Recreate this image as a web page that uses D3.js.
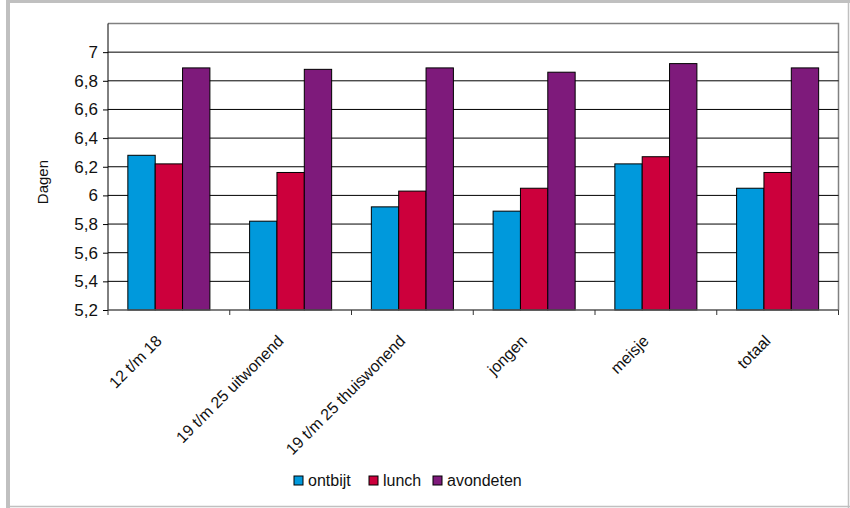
<!DOCTYPE html>
<html>
<head>
<meta charset="utf-8">
<script src="https://cdn.jsdelivr.net/npm/d3@7/dist/d3.min.js"></script>
<style>
  html, body { margin: 0; padding: 0; background: #fff; }
  svg { display: block; font-family: "Liberation Sans", Arial, sans-serif; }
</style>
</head>
<body>
<svg id="chart" width="850" height="508"></svg>
<script>
// Meals per week (days) by group
const categories = ["12 t/m 18", "19 t/m 25 uitwonend", "19 t/m 25 thuiswonend", "jongen", "meisje", "totaal"];
const seriesNames = ["ontbijt", "lunch", "avondeten"];
const ontbijt   = [6.28, 5.82, 5.92, 5.89, 6.22, 6.05];
const lunch     = [6.22, 6.16, 6.03, 6.05, 6.27, 6.16];
const avondeten = [6.89, 6.88, 6.89, 6.86, 6.92, 6.89];
const seriesColors = ["#0099DC", "#CC003C", "#7E1A7B"];
const yTicks = [5.2, 5.4, 5.6, 5.8, 6.0, 6.2, 6.4, 6.6, 6.8, 7.0];
const yDomain = [5.2, 7.2];
const yTitle = "Dagen";

const seriesValues = [ontbijt, lunch, avondeten];

const svg = d3.select("#chart");
const plot = { left: 108, right: 838.5, top: 23.5, bottom: 310 };

// outer frame
const frame = svg.append("g").attr("stroke", "#c0c0c0").attr("fill", "none");
frame.append("line").attr("x1", 8).attr("x2", 8).attr("y1", 0).attr("y2", 508).attr("stroke-width", 4);
frame.append("line").attr("x1", 6).attr("x2", 850).attr("y1", 1.5).attr("y2", 1.5).attr("stroke-width", 3);
frame.append("line").attr("x1", 6).attr("x2", 850).attr("y1", 506.5).attr("y2", 506.5).attr("stroke-width", 1.5);
frame.append("line").attr("x1", 848.5).attr("x2", 848.5).attr("y1", 0).attr("y2", 508).attr("stroke-width", 1.5);

const x0 = d3.scaleBand().domain(categories).range([plot.left, plot.right]).padding(0);
const x1 = d3.scaleBand().domain(seriesNames).range([0, x0.bandwidth()]).paddingInner(0).paddingOuter(0.726);
const y = d3.scaleLinear().domain(yDomain).range([plot.bottom, plot.top]);

// plot area border (top + right)
svg.append("path")
  .attr("d", `M${plot.left},${y(yDomain[1])}H${plot.right}V${plot.bottom}`)
  .attr("fill", "none").attr("stroke", "#808080").attr("stroke-width", 1.5);

// horizontal gridlines
svg.append("g").selectAll("line")
  .data(yTicks.filter(t => t > yDomain[0]))
  .join("line")
  .attr("x1", plot.left).attr("x2", plot.right)
  .attr("y1", d => y(d)).attr("y2", d => y(d))
  .attr("stroke", "#000").attr("stroke-width", 1);

// bars
const groups = svg.append("g").selectAll("g")
  .data(categories)
  .join("g")
  .attr("transform", d => `translate(${x0(d)},0)`);

groups.selectAll("rect")
  .data((c, i) => seriesNames.map((s, j) => ({ s, j, v: seriesValues[j][i] })))
  .join("rect")
  .attr("x", d => x1(d.s))
  .attr("width", x1.bandwidth())
  .attr("y", d => y(d.v))
  .attr("height", d => y(yDomain[0]) - y(d.v))
  .attr("fill", d => seriesColors[d.j])
  .attr("stroke", "#000").attr("stroke-width", 1);

// y axis
const yAxis = d3.axisLeft(y)
  .tickValues(yTicks)
  .tickSize(5)
  .tickPadding(5)
  .tickFormat(d => d3.format("~g")(+d.toFixed(1)).replace(".", ","));
const yg = svg.append("g").attr("transform", `translate(${plot.left},0)`).call(yAxis);
yg.select(".domain").attr("d", `M0,${plot.top}V${plot.bottom}`).attr("stroke", "#000");
yg.selectAll(".tick line").attr("stroke", "#000");
yg.selectAll(".tick text").attr("font-size", 17).attr("fill", "#111");

// x axis: ticks sit on the category boundaries
const xg = svg.append("g");
xg.append("line")
  .attr("x1", plot.left).attr("x2", plot.right)
  .attr("y1", plot.bottom).attr("y2", plot.bottom)
  .attr("stroke", "#555").attr("stroke-width", 1.5);
const boundaries = categories.map(c => x0(c)).concat([x0.range()[1]]);
xg.selectAll("line.tick")
  .data(boundaries)
  .join("line").attr("class", "tick")
  .attr("x1", d => d).attr("x2", d => d)
  .attr("y1", plot.bottom).attr("y2", plot.bottom + 5)
  .attr("stroke", "#333");
xg.selectAll("text")
  .data(categories)
  .join("text")
  .attr("transform", d => `translate(${x0(d) + x0.bandwidth() / 2 - 6},${plot.bottom + 32}) rotate(-45)`)
  .attr("text-anchor", "end")
  .attr("font-size", 16)
  .attr("fill", "#111")
  .text(d => d);

// y title
svg.append("text")
  .attr("transform", `translate(48,${(y(6.2) + y(6.0)) / 2 + 1}) rotate(-90)`)
  .attr("text-anchor", "middle")
  .attr("font-size", 15)
  .attr("fill", "#111")
  .text(yTitle);

// legend
const legendX = [294, 369, 433];
const legend = svg.append("g").attr("transform", "translate(0,476)");
const items = legend.selectAll("g").data(seriesNames).join("g")
  .attr("transform", (d, i) => `translate(${legendX[i]},0)`);
items.append("rect")
  .attr("width", 9).attr("height", 9)
  .attr("fill", (d, i) => seriesColors[i])
  .attr("stroke", "#000").attr("stroke-width", 1);
items.append("text")
  .attr("x", 14).attr("y", 10)
  .attr("font-size", 16)
  .attr("fill", "#111")
  .text(d => d);
</script>
</body>
</html>
